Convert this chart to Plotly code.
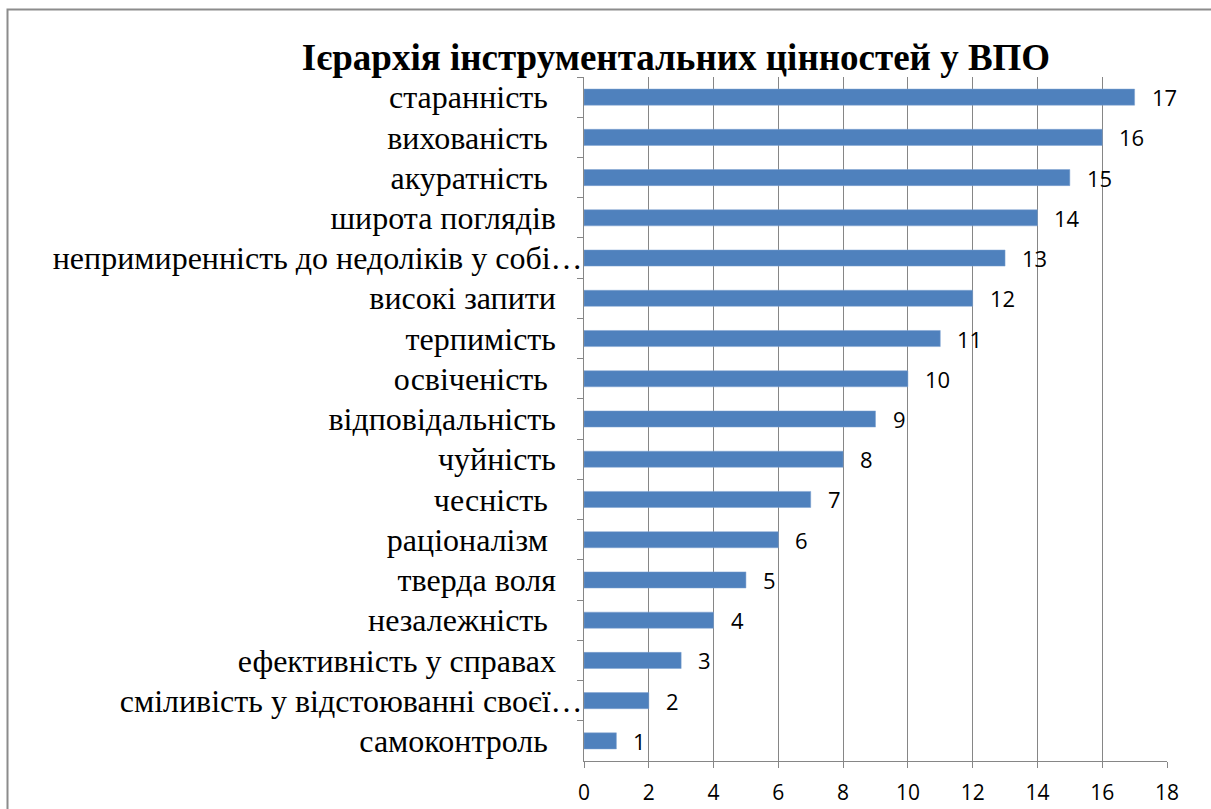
import plotly.graph_objects as go

categories = [
    "старанність", "вихованість", "акуратність", "широта поглядів",
    "непримиренність до недоліків у собі…", "високі запити", "терпимість",
    "освіченість", "відповідальність", "чуйність", "чесність", "раціоналізм",
    "тверда воля", "незалежність", "ефективність у справах",
    "сміливість у відстоюванні своєї…", "самоконтроль",
]
values = [17, 16, 15, 14, 13, 12, 11, 10, 9, 8, 7, 6, 5, 4, 3, 2, 1]
x_ticks = [0, 2, 4, 6, 8, 10, 12, 14, 16, 18]
title = "Ієрархія інструментальних цінностей у ВПО"

# trailing-space padding per label (layout only)
wide_pad = {"старанність", "вихованість", "акуратність", "освіченість", "чесність",
            "раціоналізм", "незалежність", "самоконтроль"}

def pad(c):
    if c.endswith("…"):
        return c
    if c in wide_pad:
        return c + "\u00a0" * 4 + "\u200a"
    return c + "\u00a0" * 3 + "\u200a"

labels = [pad(c) for c in categories]

W, H = 1211, 809
L, R, T, B = 584, 1167, 77, 761

fig = go.Figure()
fig.add_trace(go.Bar(
    x=values, y=labels, orientation="h",
    marker=dict(color="#4F81BD", line=dict(color="#7FA3D1", width=0.5)),
    width=0.4, hoverinfo="x+y",
))

for c, v in zip(labels, values):
    fig.add_annotation(x=v, y=c, text=str(v), showarrow=False, xanchor="left",
                       yanchor="middle", xshift=15,
                       font=dict(family="Open Sans", size=22, color="#000"))

def px(xp):
    return (xp - L) / (R - L)

def py(yp):
    return (B - yp) / (B - T)

fig.add_shape(type="rect", xref="paper", yref="paper",
              x0=px(7.5), x1=px(1300), y0=py(900), y1=py(9.5),
              line=dict(color="#8C8C8C", width=2), layer="below")

fig.update_layout(
    width=W, height=H,
    margin=dict(l=L, r=W - R, t=T, b=H - B, pad=0),
    paper_bgcolor="white", plot_bgcolor="white",
    showlegend=False,
    title=dict(text=f"<b>{title}</b>", x=676 / W, xanchor="center",
               y=1 - 57 / H, yanchor="middle",
               font=dict(family="Liberation Serif", size=37, color="#000")),
    xaxis=dict(range=[0, 18], tickvals=x_ticks, ticktext=[str(t) for t in x_ticks],
               showgrid=True, gridcolor="#868686", gridwidth=1,
               showline=True, linecolor="#868686", linewidth=1,
               ticks="outside", ticklen=6, tickcolor="#868686",
               ticklabelstandoff=7, automargin=False,
               tickfont=dict(family="Open Sans", size=21, color="#000"),
               zeroline=False, fixedrange=True),
    yaxis=dict(autorange="reversed", type="category",
               showline=True, linecolor="#868686", linewidth=1,
               ticks="outside", ticklen=6, tickcolor="#868686",
               tickson="boundaries", ticklabelstandoff=-6, automargin=False,
               tickfont=dict(family="Liberation Serif", size=32, color="#000"),
               showgrid=False, fixedrange=True),
)

fig.write_html("out.html", config={"displayModeBar": False},
               post_script="document.body.style.margin='0';document.body.style.overflow='hidden';")
